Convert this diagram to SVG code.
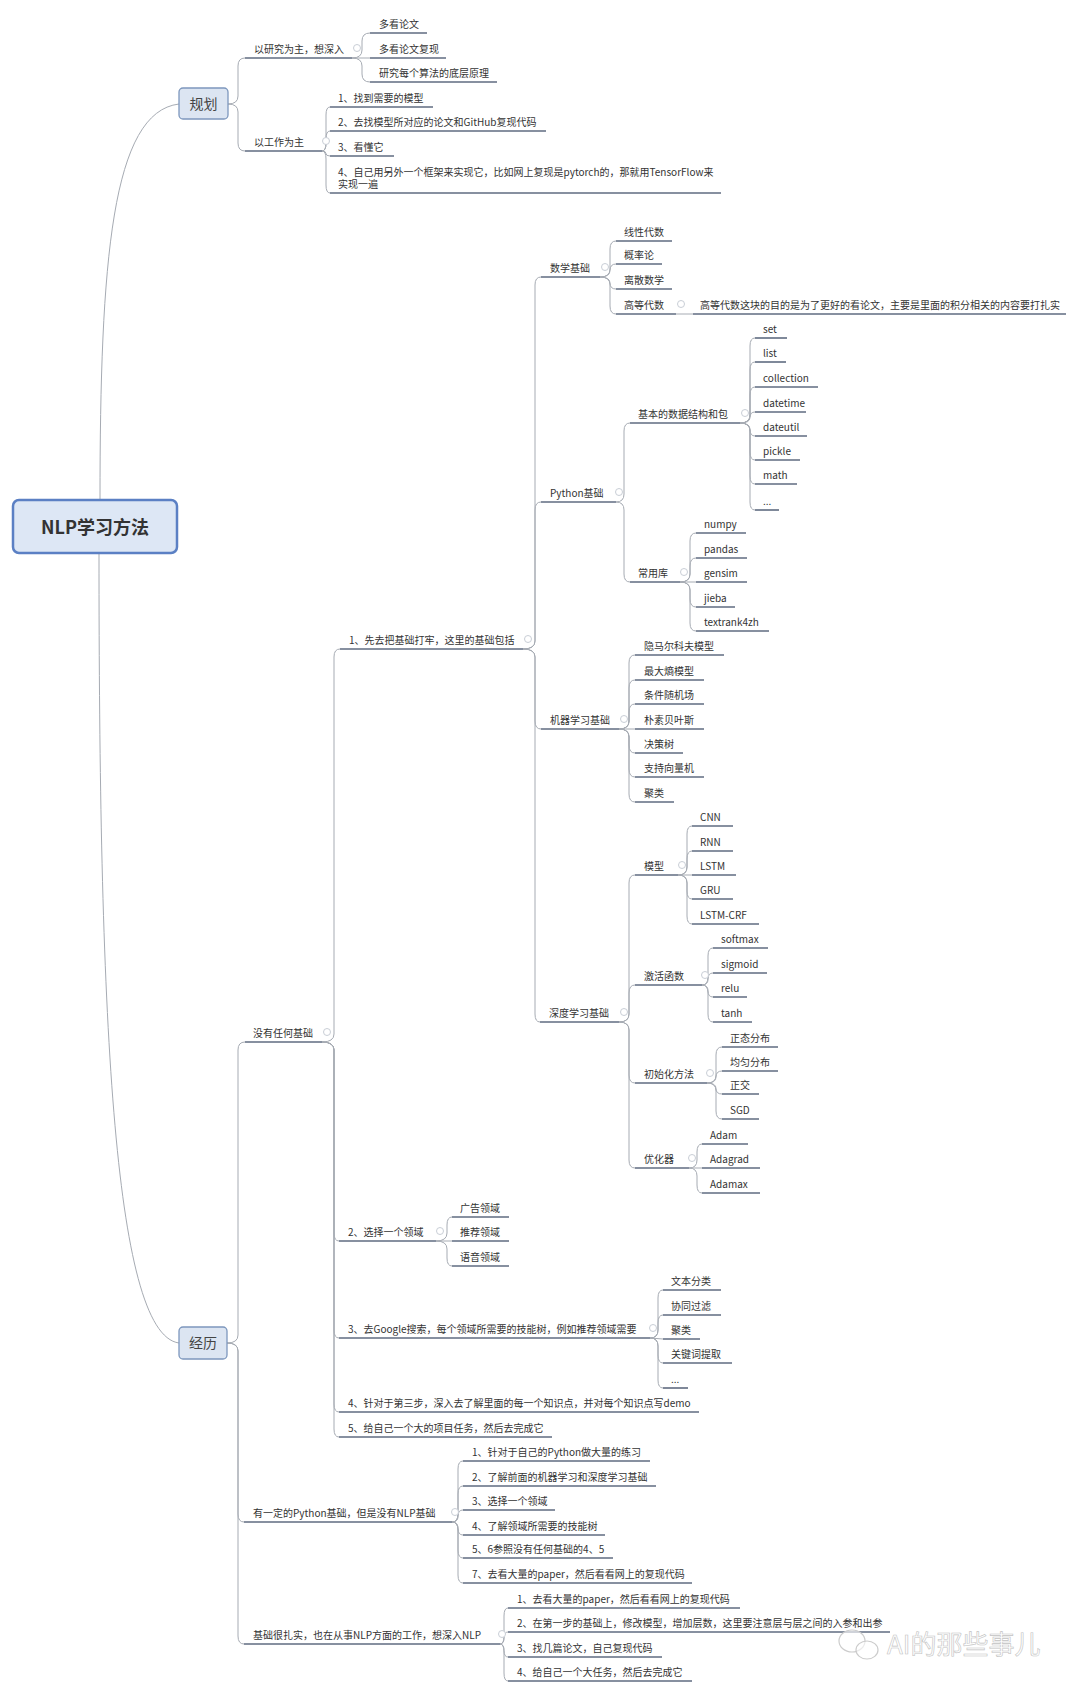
<svg xmlns="http://www.w3.org/2000/svg" width="1080" height="1693" viewBox="0 0 1080 1693">
<style>
.t{font-family:"Noto Sans CJK SC","Microsoft YaHei","Liberation Sans",sans-serif;font-size:10px;fill:#333}
.u{stroke:#5f6b80;stroke-width:1.6}
.c{fill:none;stroke:#a6abb3;stroke-width:1}
.m{fill:#fff;stroke:#c9ced6;stroke-width:1}
.box{fill:#dce5f2;stroke:#7d97bd;stroke-width:1.3}
.bt{font-family:"Noto Sans CJK SC","Microsoft YaHei",sans-serif;font-size:14px;fill:#444;text-anchor:middle}
</style>
<rect width="1080" height="1693" fill="#ffffff"/>
<g id="connectors">
<path class="c" d="M100 500 C100 260 112 112 179 104"/>
<path class="c" d="M99 553 C99 1000 112 1334 179 1343"/>
<path class="c" d="M228 104 Q238 104 238 96 V66 Q238 58 245 58"/>
<path class="c" d="M228 104 Q238 104 238 112 V143 Q238 151 245 151"/>
<path class="c" d="M352 58 Q362 58 362 50 V41 Q362 33 370 33"/>
<path class="c" d="M352 58 H370"/>
<path class="c" d="M352 58 Q362 58 362 66 V74 Q362 82 370 82"/>
<path class="c" d="M322 151 Q326 151 326 143 V115 Q326 107 330 107"/>
<path class="c" d="M322 151 Q326 151 326 143 V139 Q326 131 330 131"/>
<path class="c" d="M322 151 Q326 151 326 153.5 Q326 156 330 156"/>
<path class="c" d="M322 151 Q326 151 326 159 V185 Q326 193 330 193"/>
<path class="c" d="M523 649 Q535 649 535 641 V285 Q535 277 541 277"/>
<path class="c" d="M523 649 Q535 649 535 641 V510 Q535 502 541 502"/>
<path class="c" d="M523 649 Q535 649 535 657 V721 Q535 729 541 729"/>
<path class="c" d="M523 649 Q535 649 535 657 V1014 Q535 1022 540 1022"/>
<path class="c" d="M600 277 Q610 277 610 269 V249 Q610 241 616 241"/>
<path class="c" d="M600 277 Q610 277 610 270.5 Q610 264 616 264"/>
<path class="c" d="M600 277 Q610 277 610 283 Q610 289 616 289"/>
<path class="c" d="M600 277 Q610 277 610 285 V306 Q610 314 616 314"/>
<path class="c" d="M676 314 H693"/>
<path class="c" d="M616 502 Q624 502 624 494 V431 Q624 423 630 423"/>
<path class="c" d="M616 502 Q624 502 624 510 V574 Q624 582 630 582"/>
<path class="c" d="M740 423 Q750 423 750 415 V346 Q750 338 755 338"/>
<path class="c" d="M740 423 Q750 423 750 415 V370 Q750 362 755 362"/>
<path class="c" d="M740 423 Q750 423 750 415 V395 Q750 387 755 387"/>
<path class="c" d="M740 423 Q750 423 750 417.5 Q750 412 755 412"/>
<path class="c" d="M740 423 Q750 423 750 429.5 Q750 436 755 436"/>
<path class="c" d="M740 423 Q750 423 750 431 V452 Q750 460 755 460"/>
<path class="c" d="M740 423 Q750 423 750 431 V476 Q750 484 755 484"/>
<path class="c" d="M740 423 Q750 423 750 431 V502 Q750 510 755 510"/>
<path class="c" d="M680 582 Q690 582 690 574 V541 Q690 533 696 533"/>
<path class="c" d="M680 582 Q690 582 690 574 V566 Q690 558 696 558"/>
<path class="c" d="M680 582 H696"/>
<path class="c" d="M680 582 Q690 582 690 590 V599 Q690 607 696 607"/>
<path class="c" d="M680 582 Q690 582 690 590 V623 Q690 631 696 631"/>
<path class="c" d="M619 729 Q629 729 629 721 V663 Q629 655 635 655"/>
<path class="c" d="M619 729 Q629 729 629 721 V688 Q629 680 635 680"/>
<path class="c" d="M619 729 Q629 729 629 721 V712 Q629 704 635 704"/>
<path class="c" d="M619 729 H635"/>
<path class="c" d="M619 729 Q629 729 629 737 V745 Q629 753 635 753"/>
<path class="c" d="M619 729 Q629 729 629 737 V769 Q629 777 635 777"/>
<path class="c" d="M619 729 Q629 729 629 737 V794 Q629 802 635 802"/>
<path class="c" d="M619 1022 Q629 1022 629 1014 V883 Q629 875 635 875"/>
<path class="c" d="M619 1022 Q629 1022 629 1014 V993 Q629 985 635 985"/>
<path class="c" d="M619 1022 Q629 1022 629 1030 V1075 Q629 1083 635 1083"/>
<path class="c" d="M619 1022 Q629 1022 629 1030 V1160 Q629 1168 635 1168"/>
<path class="c" d="M678 875 Q687 875 687 867 V834 Q687 826 692 826"/>
<path class="c" d="M678 875 Q687 875 687 867 V859 Q687 851 692 851"/>
<path class="c" d="M678 875 H692"/>
<path class="c" d="M678 875 Q687 875 687 883 V891 Q687 899 692 899"/>
<path class="c" d="M678 875 Q687 875 687 883 V916 Q687 924 692 924"/>
<path class="c" d="M702 985 Q708 985 708 977 V956 Q708 948 713 948"/>
<path class="c" d="M702 985 Q708 985 708 979 Q708 973 713 973"/>
<path class="c" d="M702 985 Q708 985 708 991 Q708 997 713 997"/>
<path class="c" d="M702 985 Q708 985 708 993 V1014 Q708 1022 713 1022"/>
<path class="c" d="M707 1083 Q716 1083 716 1075 V1055 Q716 1047 722 1047"/>
<path class="c" d="M707 1083 Q716 1083 716 1077 Q716 1071 722 1071"/>
<path class="c" d="M707 1083 Q716 1083 716 1088.5 Q716 1094 722 1094"/>
<path class="c" d="M707 1083 Q716 1083 716 1091 V1111 Q716 1119 722 1119"/>
<path class="c" d="M689 1168 Q697 1168 697 1160 V1152 Q697 1144 702 1144"/>
<path class="c" d="M689 1168 H702"/>
<path class="c" d="M689 1168 Q697 1168 697 1176 V1185 Q697 1193 702 1193"/>
<path class="c" d="M227 1343 Q238 1343 238 1335 V1050 Q238 1042 245 1042"/>
<path class="c" d="M227 1343 Q238 1343 238 1351 V1514 Q238 1522 244 1522"/>
<path class="c" d="M227 1343 Q238 1343 238 1351 V1636 Q238 1644 244 1644"/>
<path class="c" d="M322 1042 Q334 1042 334 1034 V657 Q334 649 340 649"/>
<path class="c" d="M322 1042 Q334 1042 334 1050 V1233 Q334 1241 339 1241"/>
<path class="c" d="M322 1042 Q334 1042 334 1050 V1330 Q334 1338 339 1338"/>
<path class="c" d="M322 1042 Q334 1042 334 1050 V1404 Q334 1412 339 1412"/>
<path class="c" d="M322 1042 Q334 1042 334 1050 V1429 Q334 1437 339 1437"/>
<path class="c" d="M436 1241 Q447 1241 447 1233 V1225 Q447 1217 452 1217"/>
<path class="c" d="M436 1241 H452"/>
<path class="c" d="M436 1241 Q447 1241 447 1249 V1258 Q447 1266 452 1266"/>
<path class="c" d="M650 1338 Q658 1338 658 1330 V1298 Q658 1290 663 1290"/>
<path class="c" d="M650 1338 Q658 1338 658 1330 V1323 Q658 1315 663 1315"/>
<path class="c" d="M650 1338 L663 1339"/>
<path class="c" d="M650 1338 Q658 1338 658 1346 V1355 Q658 1363 663 1363"/>
<path class="c" d="M650 1338 Q658 1338 658 1346 V1380 Q658 1388 663 1388"/>
<path class="c" d="M452 1522 Q458 1522 458 1514 V1469 Q458 1461 463 1461"/>
<path class="c" d="M452 1522 Q458 1522 458 1514 V1494 Q458 1486 463 1486"/>
<path class="c" d="M452 1522 Q458 1522 458 1516 Q458 1510 463 1510"/>
<path class="c" d="M452 1522 Q458 1522 458 1528.5 Q458 1535 463 1535"/>
<path class="c" d="M452 1522 Q458 1522 458 1530 V1550 Q458 1558 463 1558"/>
<path class="c" d="M452 1522 Q458 1522 458 1530 V1575 Q458 1583 463 1583"/>
<path class="c" d="M500 1644 Q504 1644 504 1636 V1616 Q504 1608 508 1608"/>
<path class="c" d="M500 1644 Q504 1644 504 1638 Q504 1632 508 1632"/>
<path class="c" d="M500 1644 Q504 1644 504 1650.5 Q504 1657 508 1657"/>
<path class="c" d="M500 1644 Q504 1644 504 1652 V1673 Q504 1681 508 1681"/>
</g>
<g id="markers">
<circle class="m" cx="357" cy="48" r="3.5"/>
<circle class="m" cx="326" cy="141" r="3.5"/>
<circle class="m" cx="528" cy="639" r="3.5"/>
<circle class="m" cx="605" cy="267" r="3.5"/>
<circle class="m" cx="681" cy="304" r="3.5"/>
<circle class="m" cx="619" cy="492" r="3.5"/>
<circle class="m" cx="745" cy="413" r="3.5"/>
<circle class="m" cx="684" cy="572" r="3.5"/>
<circle class="m" cx="624" cy="719" r="3.5"/>
<circle class="m" cx="624" cy="1012" r="3.5"/>
<circle class="m" cx="682" cy="865" r="3.5"/>
<circle class="m" cx="705" cy="975" r="3.5"/>
<circle class="m" cx="710" cy="1073" r="3.5"/>
<circle class="m" cx="692" cy="1158" r="3.5"/>
<circle class="m" cx="327" cy="1032" r="3.5"/>
<circle class="m" cx="440" cy="1231" r="3.5"/>
<circle class="m" cx="653" cy="1328" r="3.5"/>
<circle class="m" cx="455" cy="1512" r="3.5"/>
<circle class="m" cx="502" cy="1634" r="3.5"/>
</g>
<g id="root">
<rect x="13" y="500" width="164" height="53" rx="6" fill="#dde7f5" stroke="#5b80c4" stroke-width="2.5"/>
<text x="95" y="534" text-anchor="middle" font-family="'Noto Sans CJK SC','Microsoft YaHei',sans-serif" font-size="18" font-weight="bold" fill="#333">NLP学习方法</text>
</g>
<g id="n-guihua">
<rect class="box" x="179" y="88" width="49" height="31" rx="4"/>
<text class="bt" x="203.5" y="109">规划</text>
</g>
<g id="n-jingli">
<rect class="box" x="179" y="1327" width="48" height="32" rx="4"/>
<text class="bt" x="203" y="1348">经历</text>
</g>
<g id="n-a1"><line class="u" x1="245" y1="58" x2="352" y2="58"/><text class="t" x="254" y="53">以研究为主，想深入</text></g>
<g id="n-a1a"><line class="u" x1="370" y1="33" x2="427" y2="33"/><text class="t" x="379" y="28">多看论文</text></g>
<g id="n-a1b"><line class="u" x1="370" y1="58" x2="446" y2="58"/><text class="t" x="379" y="53">多看论文复现</text></g>
<g id="n-a1c"><line class="u" x1="370" y1="82" x2="497" y2="82"/><text class="t" x="379" y="77">研究每个算法的底层原理</text></g>
<g id="n-a2"><line class="u" x1="245" y1="151" x2="322" y2="151"/><text class="t" x="254" y="146">以工作为主</text></g>
<g id="n-a2a"><line class="u" x1="330" y1="107" x2="433" y2="107"/><text class="t" x="338" y="102">1、找到需要的模型</text></g>
<g id="n-a2b"><line class="u" x1="330" y1="131" x2="546" y2="131"/><text class="t" x="338" y="126">2、去找模型所对应的论文和GitHub复现代码</text></g>
<g id="n-a2c"><line class="u" x1="330" y1="156" x2="394" y2="156"/><text class="t" x="338" y="151">3、看懂它</text></g>
<g id="n-a2d"><line class="u" x1="330" y1="193" x2="721" y2="193"/><text class="t" x="338" y="176">4、自己用另外一个框架来实现它，比如网上复现是pytorch的，那就用TensorFlow来</text><text class="t" x="338" y="188">实现一遍</text></g>
<g id="n-jingli1"><line class="u" x1="245" y1="1042" x2="322" y2="1042"/><text class="t" x="253" y="1037">没有任何基础</text></g>
<g id="n-b"><line class="u" x1="340" y1="649" x2="523" y2="649"/><text class="t" x="349" y="644">1、先去把基础打牢，这里的基础包括</text></g>
<g id="n-b1"><line class="u" x1="541" y1="277" x2="600" y2="277"/><text class="t" x="550" y="272">数学基础</text></g>
<g id="n-b1a"><line class="u" x1="616" y1="241" x2="672" y2="241"/><text class="t" x="624" y="236">线性代数</text></g>
<g id="n-b1b"><line class="u" x1="616" y1="264" x2="662" y2="264"/><text class="t" x="624" y="259">概率论</text></g>
<g id="n-b1c"><line class="u" x1="616" y1="289" x2="672" y2="289"/><text class="t" x="624" y="284">离散数学</text></g>
<g id="n-b1d"><line class="u" x1="616" y1="314" x2="676" y2="314"/><text class="t" x="624" y="309">高等代数</text></g>
<g id="n-b1d1"><line class="u" x1="693" y1="314" x2="1066" y2="314"/><text class="t" x="700" y="309">高等代数这块的目的是为了更好的看论文，主要是里面的积分相关的内容要打扎实</text></g>
<g id="n-b2"><line class="u" x1="541" y1="502" x2="616" y2="502"/><text class="t" x="550" y="497">Python基础</text></g>
<g id="n-b21"><line class="u" x1="630" y1="423" x2="740" y2="423"/><text class="t" x="638" y="418">基本的数据结构和包</text></g>
<g id="n-set"><line class="u" x1="755" y1="338" x2="787" y2="338"/><text class="t" x="763" y="333">set</text></g>
<g id="n-list"><line class="u" x1="755" y1="362" x2="786" y2="362"/><text class="t" x="763" y="357">list</text></g>
<g id="n-collection"><line class="u" x1="755" y1="387" x2="818" y2="387"/><text class="t" x="763" y="382">collection</text></g>
<g id="n-datetime"><line class="u" x1="755" y1="412" x2="806" y2="412"/><text class="t" x="763" y="407">datetime</text></g>
<g id="n-dateutil"><line class="u" x1="755" y1="436" x2="807" y2="436"/><text class="t" x="763" y="431">dateutil</text></g>
<g id="n-pickle"><line class="u" x1="755" y1="460" x2="800" y2="460"/><text class="t" x="763" y="455">pickle</text></g>
<g id="n-math"><line class="u" x1="755" y1="484" x2="797" y2="484"/><text class="t" x="763" y="479">math</text></g>
<g id="n-etc1"><line class="u" x1="755" y1="510" x2="779" y2="510"/><text class="t" x="763" y="505">...</text></g>
<g id="n-b22"><line class="u" x1="630" y1="582" x2="680" y2="582"/><text class="t" x="638" y="577">常用库</text></g>
<g id="n-numpy"><line class="u" x1="696" y1="533" x2="746" y2="533"/><text class="t" x="704" y="528">numpy</text></g>
<g id="n-pandas"><line class="u" x1="696" y1="558" x2="747" y2="558"/><text class="t" x="704" y="553">pandas</text></g>
<g id="n-gensim"><line class="u" x1="696" y1="582" x2="747" y2="582"/><text class="t" x="704" y="577">gensim</text></g>
<g id="n-jieba"><line class="u" x1="696" y1="607" x2="735" y2="607"/><text class="t" x="704" y="602">jieba</text></g>
<g id="n-textrank"><line class="u" x1="696" y1="631" x2="769" y2="631"/><text class="t" x="704" y="626">textrank4zh</text></g>
<g id="n-b3"><line class="u" x1="541" y1="729" x2="619" y2="729"/><text class="t" x="550" y="724">机器学习基础</text></g>
<g id="n-b3a"><line class="u" x1="635" y1="655" x2="724" y2="655"/><text class="t" x="644" y="650">隐马尔科夫模型</text></g>
<g id="n-b3b"><line class="u" x1="635" y1="680" x2="704" y2="680"/><text class="t" x="644" y="675">最大熵模型</text></g>
<g id="n-b3c"><line class="u" x1="635" y1="704" x2="704" y2="704"/><text class="t" x="644" y="699">条件随机场</text></g>
<g id="n-b3d"><line class="u" x1="635" y1="729" x2="704" y2="729"/><text class="t" x="644" y="724">朴素贝叶斯</text></g>
<g id="n-b3e"><line class="u" x1="635" y1="753" x2="683" y2="753"/><text class="t" x="644" y="748">决策树</text></g>
<g id="n-b3f"><line class="u" x1="635" y1="777" x2="704" y2="777"/><text class="t" x="644" y="772">支持向量机</text></g>
<g id="n-b3g"><line class="u" x1="635" y1="802" x2="674" y2="802"/><text class="t" x="644" y="797">聚类</text></g>
<g id="n-b4"><line class="u" x1="540" y1="1022" x2="619" y2="1022"/><text class="t" x="549" y="1017">深度学习基础</text></g>
<g id="n-b41"><line class="u" x1="635" y1="875" x2="678" y2="875"/><text class="t" x="644" y="870">模型</text></g>
<g id="n-cnn"><line class="u" x1="692" y1="826" x2="733" y2="826"/><text class="t" x="700" y="821">CNN</text></g>
<g id="n-rnn"><line class="u" x1="692" y1="851" x2="733" y2="851"/><text class="t" x="700" y="846">RNN</text></g>
<g id="n-lstm"><line class="u" x1="692" y1="875" x2="736" y2="875"/><text class="t" x="700" y="870">LSTM</text></g>
<g id="n-gru"><line class="u" x1="692" y1="899" x2="733" y2="899"/><text class="t" x="700" y="894">GRU</text></g>
<g id="n-lstmcrf"><line class="u" x1="692" y1="924" x2="759" y2="924"/><text class="t" x="700" y="919">LSTM-CRF</text></g>
<g id="n-b42"><line class="u" x1="635" y1="985" x2="702" y2="985"/><text class="t" x="644" y="980">激活函数</text></g>
<g id="n-softmax"><line class="u" x1="713" y1="948" x2="768" y2="948"/><text class="t" x="721" y="943">softmax</text></g>
<g id="n-sigmoid"><line class="u" x1="713" y1="973" x2="767" y2="973"/><text class="t" x="721" y="968">sigmoid</text></g>
<g id="n-relu"><line class="u" x1="713" y1="997" x2="747" y2="997"/><text class="t" x="721" y="992">relu</text></g>
<g id="n-tanh"><line class="u" x1="713" y1="1022" x2="752" y2="1022"/><text class="t" x="721" y="1017">tanh</text></g>
<g id="n-b43"><line class="u" x1="635" y1="1083" x2="707" y2="1083"/><text class="t" x="644" y="1078">初始化方法</text></g>
<g id="n-normal"><line class="u" x1="722" y1="1047" x2="778" y2="1047"/><text class="t" x="730" y="1042">正态分布</text></g>
<g id="n-uniform"><line class="u" x1="722" y1="1071" x2="778" y2="1071"/><text class="t" x="730" y="1066">均匀分布</text></g>
<g id="n-ortho"><line class="u" x1="722" y1="1094" x2="759" y2="1094"/><text class="t" x="730" y="1089">正交</text></g>
<g id="n-sgd"><line class="u" x1="722" y1="1119" x2="759" y2="1119"/><text class="t" x="730" y="1114">SGD</text></g>
<g id="n-b44"><line class="u" x1="635" y1="1168" x2="689" y2="1168"/><text class="t" x="644" y="1163">优化器</text></g>
<g id="n-adam"><line class="u" x1="702" y1="1144" x2="748" y2="1144"/><text class="t" x="710" y="1139">Adam</text></g>
<g id="n-adagrad"><line class="u" x1="702" y1="1168" x2="760" y2="1168"/><text class="t" x="710" y="1163">Adagrad</text></g>
<g id="n-adamax"><line class="u" x1="702" y1="1193" x2="760" y2="1193"/><text class="t" x="710" y="1188">Adamax</text></g>
<g id="n-c2"><line class="u" x1="339" y1="1241" x2="436" y2="1241"/><text class="t" x="348" y="1236">2、选择一个领域</text></g>
<g id="n-c2a"><line class="u" x1="452" y1="1217" x2="509" y2="1217"/><text class="t" x="460" y="1212">广告领域</text></g>
<g id="n-c2b"><line class="u" x1="452" y1="1241" x2="509" y2="1241"/><text class="t" x="460" y="1236">推荐领域</text></g>
<g id="n-c2c"><line class="u" x1="452" y1="1266" x2="509" y2="1266"/><text class="t" x="460" y="1261">语音领域</text></g>
<g id="n-c3"><line class="u" x1="339" y1="1338" x2="650" y2="1338"/><text class="t" x="348" y="1333">3、去Google搜索，每个领域所需要的技能树，例如推荐领域需要</text></g>
<g id="n-c3a"><line class="u" x1="663" y1="1290" x2="721" y2="1290"/><text class="t" x="671" y="1285">文本分类</text></g>
<g id="n-c3b"><line class="u" x1="663" y1="1315" x2="721" y2="1315"/><text class="t" x="671" y="1310">协同过滤</text></g>
<g id="n-c3c"><line class="u" x1="663" y1="1339" x2="700" y2="1339"/><text class="t" x="671" y="1334">聚类</text></g>
<g id="n-c3d"><line class="u" x1="663" y1="1363" x2="732" y2="1363"/><text class="t" x="671" y="1358">关键词提取</text></g>
<g id="n-c3e"><line class="u" x1="663" y1="1388" x2="688" y2="1388"/><text class="t" x="671" y="1383">...</text></g>
<g id="n-c4"><line class="u" x1="339" y1="1412" x2="699" y2="1412"/><text class="t" x="348" y="1407">4、针对于第三步，深入去了解里面的每一个知识点，并对每个知识点写demo</text></g>
<g id="n-c5"><line class="u" x1="339" y1="1437" x2="552" y2="1437"/><text class="t" x="348" y="1432">5、给自己一个大的项目任务，然后去完成它</text></g>
<g id="n-d"><line class="u" x1="244" y1="1522" x2="452" y2="1522"/><text class="t" x="253" y="1517">有一定的Python基础，但是没有NLP基础</text></g>
<g id="n-d1"><line class="u" x1="463" y1="1461" x2="650" y2="1461"/><text class="t" x="472" y="1456">1、针对于自己的Python做大量的练习</text></g>
<g id="n-d2"><line class="u" x1="463" y1="1486" x2="656" y2="1486"/><text class="t" x="472" y="1481">2、了解前面的机器学习和深度学习基础</text></g>
<g id="n-d3"><line class="u" x1="463" y1="1510" x2="555" y2="1510"/><text class="t" x="472" y="1505">3、选择一个领域</text></g>
<g id="n-d4"><line class="u" x1="463" y1="1535" x2="605" y2="1535"/><text class="t" x="472" y="1530">4、了解领域所需要的技能树</text></g>
<g id="n-d5"><line class="u" x1="463" y1="1558" x2="613" y2="1558"/><text class="t" x="472" y="1553">5、6参照没有任何基础的4、5</text></g>
<g id="n-d7"><line class="u" x1="463" y1="1583" x2="692" y2="1583"/><text class="t" x="472" y="1578">7、去看大量的paper，然后看看网上的复现代码</text></g>
<g id="n-e"><line class="u" x1="244" y1="1644" x2="500" y2="1644"/><text class="t" x="253" y="1639">基础很扎实，也在从事NLP方面的工作，想深入NLP</text></g>
<g id="n-e1"><line class="u" x1="508" y1="1608" x2="740" y2="1608"/><text class="t" x="517" y="1603">1、去看大量的paper，然后看看网上的复现代码</text></g>
<g id="n-e2"><line class="u" x1="508" y1="1632" x2="890" y2="1632"/><text class="t" x="517" y="1627">2、在第一步的基础上，修改模型，增加层数，这里要注意层与层之间的入参和出参</text></g>
<g id="n-e3"><line class="u" x1="508" y1="1657" x2="662" y2="1657"/><text class="t" x="517" y="1652">3、找几篇论文，自己复现代码</text></g>
<g id="n-e4"><line class="u" x1="508" y1="1681" x2="692" y2="1681"/><text class="t" x="517" y="1676">4、给自己一个大任务，然后去完成它</text></g>
<g id="watermark">
<ellipse cx="852" cy="1641" rx="13" ry="11" fill="#fff" fill-opacity="0.6" stroke="#cccccc" stroke-width="1.2"/>
<ellipse cx="867" cy="1650" rx="11" ry="9" fill="#fff" fill-opacity="0.6" stroke="#cccccc" stroke-width="1.2"/>
<text x="887" y="1654" font-family="'Noto Sans CJK SC','Microsoft YaHei',sans-serif" font-size="26" fill="#ffffff" stroke="#c2c2c2" stroke-width="0.6">AI的那些事儿</text>
</g>
</svg>
